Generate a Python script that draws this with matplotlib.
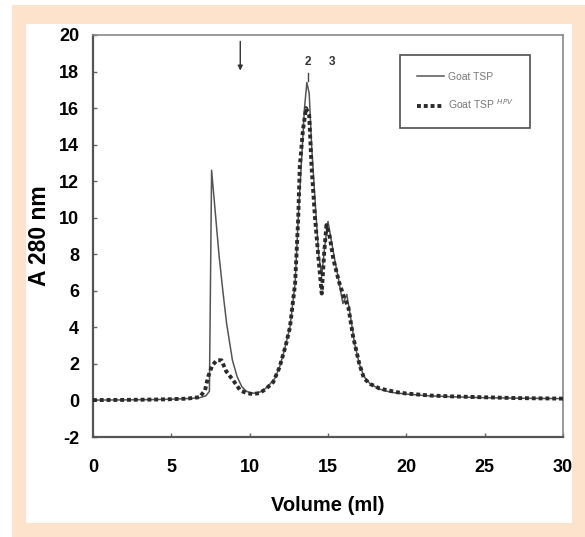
import matplotlib
matplotlib.use("Agg")
import matplotlib.pyplot as plt
from matplotlib.patches import Rectangle

# ---- data ----
vol_tsp = [0, 2, 4, 5, 6, 6.8, 7.2, 7.43, 7.57, 8.05, 8.3, 8.53, 8.9, 9.2, 9.5,
           9.8, 10.1, 10.4, 10.8, 11.2, 11.6, 11.9, 12.2, 12.57, 12.9, 13.1, 13.3,
           13.5, 13.65, 13.8, 13.95, 14.17, 14.4, 14.6, 14.8, 15.0, 15.2, 15.45,
           15.7, 15.95, 16.2, 16.45, 16.7, 17.0, 17.3, 17.7, 18.3, 19, 20, 21.5,
           23, 25, 27.5, 30]
a280_tsp = [0.02, 0.03, 0.05, 0.07, 0.1, 0.15, 0.25, 0.5, 12.6, 7.9, 5.9, 4.2,
            2.2, 1.3, 0.75, 0.5, 0.4, 0.4, 0.5, 0.8, 1.2, 1.8, 2.7, 4.0, 6.4, 10.0,
            13.0, 16.0, 17.4, 16.8, 14.0, 11.0, 8.0, 6.8, 8.5, 9.8, 8.8, 7.6, 6.5,
            5.3, 5.8, 4.5, 3.1, 2.0, 1.3, 0.9, 0.62, 0.45, 0.35, 0.25, 0.2, 0.15,
            0.12, 0.1]

vol_hpv = [0, 2, 4, 5, 6, 6.8, 7.15, 7.35, 7.6, 7.9, 8.2, 8.5, 8.95, 9.4, 9.8, 10.2,
           10.6, 11.0, 11.5, 11.9, 12.3, 12.57, 12.9, 13.1, 13.2, 13.4, 13.6, 13.8,
           13.95, 14.17, 14.4, 14.6, 14.75, 14.9, 15.1, 15.35, 15.7, 16.0, 16.3,
           16.6, 17.0, 17.3, 17.7, 18.3, 19.4, 20, 21.5, 23, 24.7, 27, 30]
a280_hpv = [0.02, 0.03, 0.05, 0.07, 0.1, 0.18, 0.55, 1.3, 1.9, 2.2, 2.2, 1.6, 1.1,
            0.55, 0.4, 0.35, 0.4, 0.6, 1.0, 1.8, 3.0, 4.0, 6.4, 10.0, 12.8, 14.8,
            16.0, 15.6, 12.8, 10.0, 7.7, 5.85, 8.0, 9.6, 9.0, 7.7, 6.5, 5.7, 5.1,
            3.5, 2.0, 1.2, 0.9, 0.65, 0.45, 0.38, 0.27, 0.22, 0.18, 0.13, 0.1]

x_ticks = [0, 5, 10, 15, 20, 25, 30]
y_ticks = [-2, 0, 2, 4, 6, 8, 10, 12, 14, 16, 18, 20]
peak_labels = ["1", "2", "3"]
peak_pos = [9.4, 13.7, 15.25]

plt.rcParams['font.family'] = ['Liberation Sans', 'DejaVu Sans']

W, H = 585, 537
fig = plt.figure(figsize=(W / 100, H / 100), dpi=100)
fig.patch.set_facecolor('white')

# peach frame
fig.patches.append(Rectangle((12 / W, 0), (W - 12) / W, (H - 5) / H,
                             transform=fig.transFigure, facecolor='#fde3cc',
                             edgecolor='none', zorder=-10))
fig.patches.append(Rectangle((26 / W, (H - 523) / H), (572 - 26) / W, (523 - 24) / H,
                             transform=fig.transFigure, facecolor='white',
                             edgecolor='none', zorder=-9))

ax = fig.add_axes([93 / W, 1 - 437 / H, (563 - 93) / W, (437 - 35) / H])
ax.set_facecolor('none')

ax.plot(vol_tsp, a280_tsp, color='#555555', lw=1.1, label='Goat TSP', zorder=3)
ax.plot(vol_hpv, a280_hpv, color='#2a2a2a', lw=2.8, linestyle=(0, (1.0, 0.75)),
        dash_capstyle='butt', label='Goat TSP $^{HPV}$', zorder=4)

ax.set_xlim(0, 30)
ax.set_ylim(-2, 20)
ax.set_xticks(x_ticks)
ax.set_yticks(y_ticks)
ax.set_xticklabels([str(t) for t in x_ticks], fontsize=13, fontweight='bold')
ax.set_yticklabels([str(t) for t in y_ticks], fontsize=13, fontweight='bold')
ax.tick_params(axis='both', direction='in', length=3, width=1, color='#666666')
ax.tick_params(axis='x', pad=16)
ax.tick_params(axis='y', pad=10)

for s in ['left', 'bottom']:
    ax.spines[s].set_color('#555555')
    ax.spines[s].set_linewidth(1.6)
for s in ['top', 'right']:
    ax.spines[s].set_color('#888888')
    ax.spines[s].set_linewidth(1.2)

ax.set_xlabel('Volume (ml)', fontsize=14.5, fontweight='bold', labelpad=14)
ax.set_ylabel('A 280 nm', fontsize=16.5, fontweight='bold', labelpad=6)

# peak markers
ax.annotate('', xy=(peak_pos[0], 17.9), xytext=(peak_pos[0], 19.8),
            arrowprops=dict(arrowstyle='-|>', color='#333333', lw=1.0,
                            mutation_scale=7))
for lab, p in zip(peak_labels[1:], peak_pos[1:]):
    ax.text(p, 18.5, lab, ha='center', va='center', fontsize=8.5,
            fontweight='bold', color='#333333')
ax.plot([peak_pos[1], peak_pos[1]], [17.9, 17.5], color='#444444', lw=1.0)

leg = ax.legend(loc='upper left', bbox_to_anchor=(0.653, 0.95), fontsize=7.5,
                frameon=True, fancybox=False, borderpad=1.6, handlelength=2.6,
                handletextpad=0.4, labelspacing=1.5, borderaxespad=0)
leg.get_frame().set_edgecolor('#222222')
leg.get_frame().set_linewidth(1.2)
for t in leg.get_texts():
    t.set_color('#777777')

fig.savefig('out.png', dpi=100)
